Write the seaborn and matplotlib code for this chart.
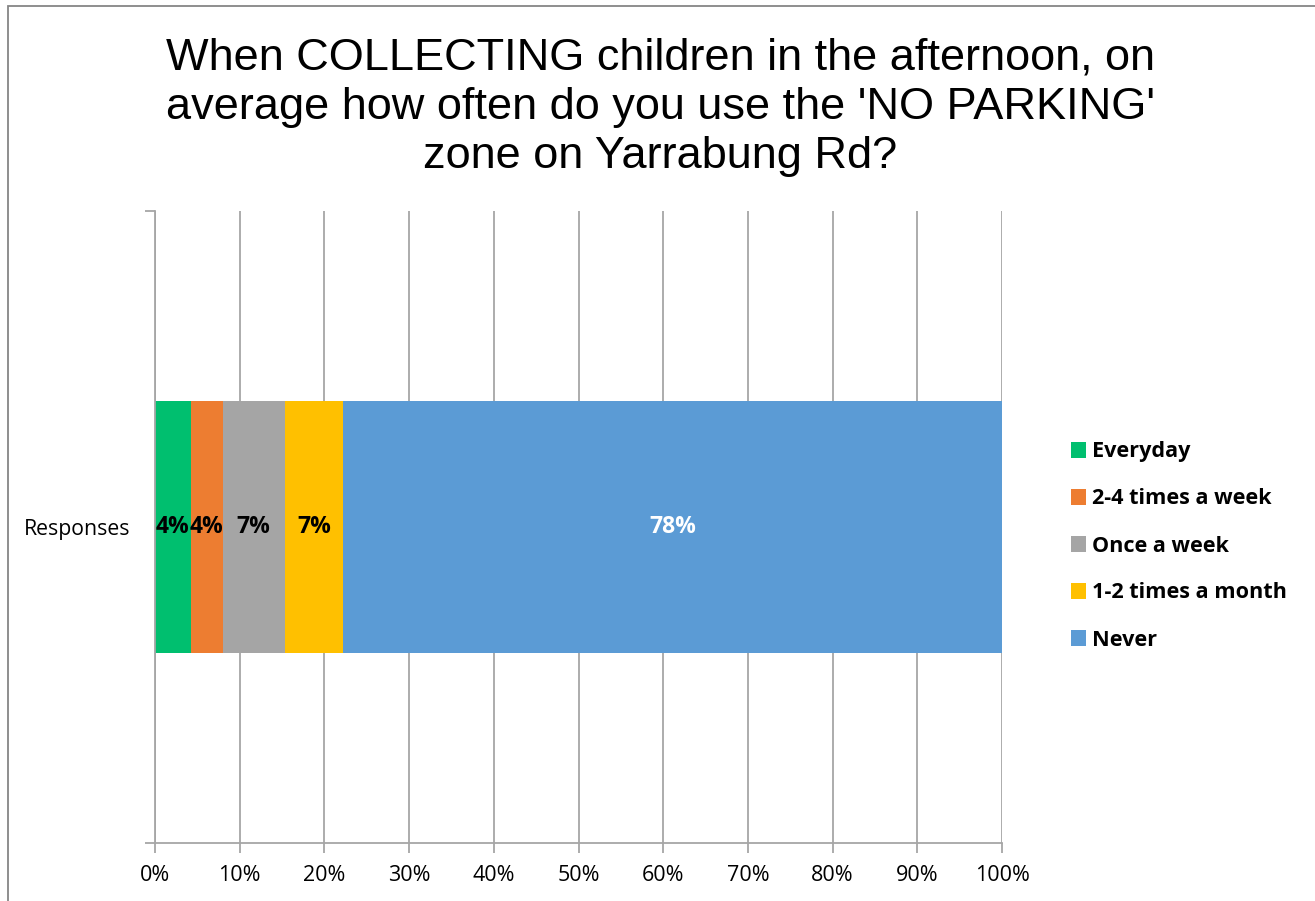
import matplotlib
matplotlib.use("Agg")
import matplotlib.pyplot as plt
import seaborn as sns
import pandas as pd
from matplotlib.patches import Rectangle

sns.set_theme(style="white")
plt.rcParams['font.family'] = ['Open Sans', 'DejaVu Sans']
plt.rcParams['text.color'] = 'black'
plt.rcParams['xtick.color'] = 'black'
plt.rcParams['ytick.color'] = 'black'

### Data
categories = ["Everyday", "2-4 times a week", "Once a week", "1-2 times a month", "Never"]
values = [4.2, 3.8, 7.3, 6.9, 77.8]
colors = ["#00bf6f", "#ed7d31", "#a5a5a5", "#ffc000", "#5b9bd5"]
label_colors = ["black", "black", "black", "black", "white"]
row_name = "Responses"
title = "When COLLECTING children in the afternoon, on\naverage how often do you use the 'NO PARKING'\nzone on Yarrabung Rd?"

df = pd.DataFrame({"category": categories, "value": values})
df["left"] = df["value"].cumsum() - df["value"]
df["row"] = row_name

fig = plt.figure(figsize=(13.15, 9.01), dpi=100)
ax = fig.add_axes([155 / 1315, 1 - 843 / 901, (1002 - 155) / 1315, (843 - 211) / 901])

# stacked horizontal bar, one segment per category
for i, r in df.iterrows():
    sns.barplot(x=[r["value"]], y=[r["row"]], left=r["left"], color=colors[i],
                orient="h", width=0.4, ax=ax, label=r["category"], saturation=1,
                linewidth=0)
    ax.text(r["left"] + r["value"] / 2, 0, f"{r['value']:.0f}%", ha="center", va="center",
            fontsize=16.5, fontweight="bold", color=label_colors[i])

ax.set_xlim(0, 100)
ax.set_ylim(0.5, -0.5)
ax.set_xticks(range(0, 101, 10))
ax.set_xticklabels([f"{t}%" for t in range(0, 101, 10)])
ax.set_xlabel("")
ax.set_ylabel("")
ax.xaxis.grid(True, color="#a6a6a6", linewidth=1.3)
ax.set_axisbelow(True)
ax.yaxis.grid(False)

# category axis: label at center, tick marks at the boundaries
ax.set_yticks([-0.5, 0.5], minor=True)
ax.set_yticks([0])
ax.set_yticklabels([row_name])
ax.tick_params(axis="y", which="major", length=0, labelsize=15.3, pad=18)
ax.tick_params(axis="y", which="minor", length=7, color="#a6a6a6", width=1.3, left=True)
ax.tick_params(axis="x", length=7, color="#a6a6a6", width=1.3, bottom=True,
               labelsize=15.5, labelcolor="black", pad=9)

for s in ["top", "right"]:
    ax.spines[s].set_visible(False)
for s in ["left", "bottom"]:
    ax.spines[s].set_color("#a6a6a6")
    ax.spines[s].set_linewidth(1.3)

leg = ax.legend(loc="center left", bbox_to_anchor=(1060 / 1315, 1 - 546 / 901),
                bbox_transform=fig.transFigure, frameon=False,
                prop={"family": "Open Sans", "weight": "bold", "size": 15.6},
                handlelength=0.7, handleheight=0.7, handletextpad=0.3,
                labelspacing=1.2, borderpad=0)

fig.text(0.502, 1 - 107 / 901, title, ha="center", va="center", fontsize=32.5,
         family="Liberation Sans", linespacing=1.26, color="black")

# chart area border (left and top edges visible)
fig.patches.append(Rectangle((8 / 1315, -0.1), 1.2, 1 - 6 / 901 + 0.1,
                             transform=fig.transFigure, fill=False,
                             edgecolor="#868686", linewidth=1.3))

fig.savefig("out.png", dpi=100)
